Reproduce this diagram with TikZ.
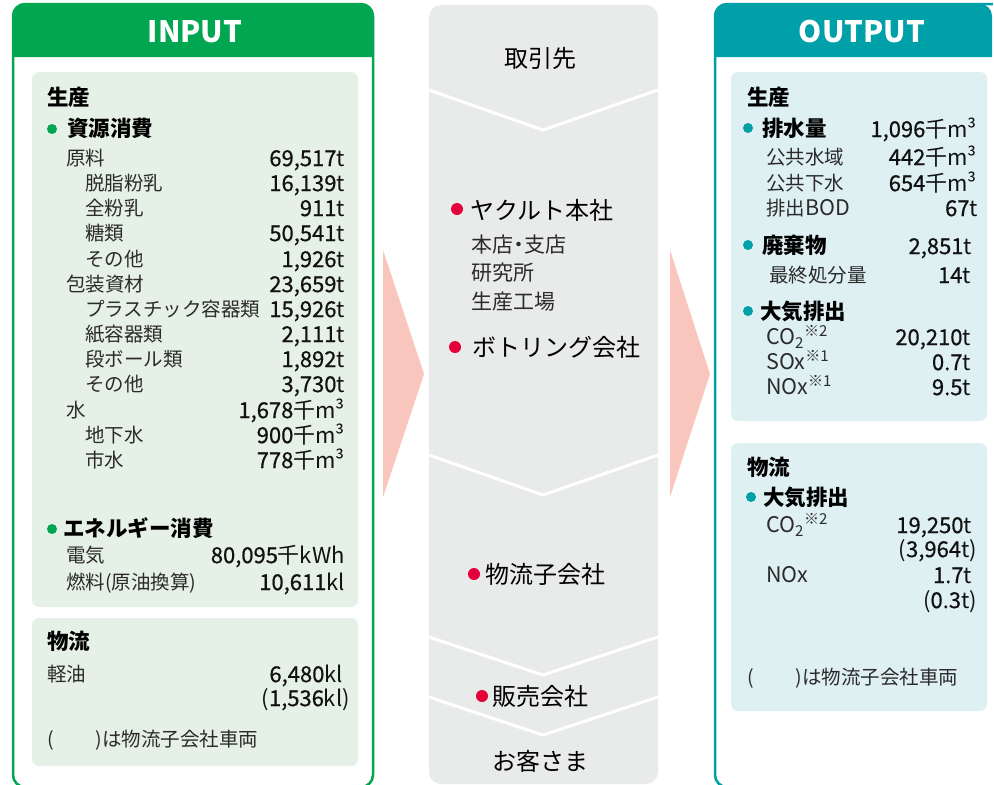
\documentclass[tikz,border=0pt]{standalone}
\usepackage{fontspec}
\setmainfont{Noto Sans CJK JP}
\newfontfamily\jpnum[FakeBold=0.6]{Noto Sans CJK JP}
\newfontfamily\jpreg{Noto Sans CJK JP}
\newcommand\unitf[1]{{\jpreg #1}}
\newcommand\latlab[1]{{\fontsize{21.5}{22}\selectfont #1}}
\definecolor{ingreen}{HTML}{00A650}
\definecolor{inpanel}{HTML}{E5F0E6}
\definecolor{outteal}{HTML}{00A0A8}
\definecolor{outpanel}{HTML}{DFF0F2}
\definecolor{midgrey}{HTML}{E9EAEA}
\definecolor{pinkarrow}{HTML}{F8C6BC}
\definecolor{reddot}{HTML}{E4003A}
\definecolor{labc}{HTML}{2B2B2B}
\definecolor{valc}{HTML}{111111}
\newcommand\Row[6]{%
  \node[lab,anchor=west] (#1a) at (#2,#3) {#4};
  \node[val,anchor=east] (#1b) at (#5,#3) {#6};}
\begin{document}
\begin{tikzpicture}[x=1pt,y=-1pt,
  lab/.style={inner sep=0pt, text height=15.6pt, text depth=1.17pt, font=\fontsize{19.5}{22}\selectfont, text=labc},
  val/.style={inner sep=0pt, text height=17.6pt, text depth=1.32pt, font=\jpnum\fontsize{22}{24}\selectfont, text=valc},
  hd/.style={inner sep=0pt, text height=17.2pt, text depth=1.29pt, font=\bfseries\fontsize{21.5}{24}\selectfont, text=black},
  mid/.style={inner sep=0pt, text height=19.2pt, text depth=1.44pt, font=\fontsize{24}{26}\selectfont, text=black},
  midsub/.style={inner sep=0pt, text height=16.8pt, text depth=1.26pt, font=\fontsize{21}{24}\selectfont, text=labc},
  title/.style={inner sep=0pt, text height=21.5pt, text depth=0pt, font=\bfseries\fontsize{29.5}{32}\selectfont, text=white},
  chev/.style={draw=white, line width=3pt, line join=round},
  gdot/.style={circle, fill=ingreen, inner sep=0pt, minimum size=10pt},
  tdot/.style={circle, fill=outteal, inner sep=0pt, minimum size=10pt},
  rdot/.style={circle, fill=reddot, inner sep=0pt, minimum size=12pt},
  panel/.style={rounded corners=7pt}
]
\useasboundingbox (0,0) rectangle (994,785);
\clip (0,0) rectangle (994,785);
\fill[white] (0,0) rectangle (994,785);

% ---------- INPUT frame ----------
\fill[ingreen] (13,57) {[rounded corners=12pt] -- (13,4) -- (373,4)} -- (373,57) -- cycle;
\draw[ingreen, line width=2.5pt, rounded corners=12pt] (13,4) rectangle (373,787);
\node[title] (intitle) at (195,31.5) {INPUT};
\fill[inpanel, panel] (32,72) rectangle (358,607);
\fill[inpanel, panel] (32,618) rectangle (358,766);

\node[hd,anchor=west] (inprod) at (47,98) {生産};
\node[gdot] (d1) at (52,129) {};
\node[hd,anchor=west] (inres) at (67,129) {資源消費};
\Row{r1}{66}{158}{原料}{345}{69,517\unitf{t}}
\Row{r2}{85}{183}{脱脂粉乳}{345}{16,139\unitf{t}}
\Row{r3}{85}{208}{全粉乳}{345}{911\unitf{t}}
\Row{r4}{85}{233}{糖類}{345}{50,541\unitf{t}}
\Row{r5}{85}{259}{その他}{345}{1,926\unitf{t}}
\Row{r6}{66}{284}{包装資材}{345}{23,659\unitf{t}}
\Row{r7}{85}{309}{プラスチック容器類}{345}{15,926\unitf{t}}
\Row{r8}{85}{334}{紙容器類}{345}{2,111\unitf{t}}
\Row{r9}{85}{359}{段ボール類}{345}{1,892\unitf{t}}
\Row{r10}{85}{384}{その他}{345}{3,730\unitf{t}}
\Row{r11}{66}{410}{水}{345}{1,678\unitf{千m³}}
\Row{r12}{85}{435}{地下水}{345}{900\unitf{千m³}}
\Row{r13}{85}{460}{市水}{345}{778\unitf{千m³}}
\node[gdot] (d2) at (52,529) {};
\node[hd,anchor=west] (inen) at (63,529) {エネルギー消費};
\Row{r14}{66}{555}{電気}{345}{80,095\unitf{千kWh}}
\Row{r15}{66}{582}{燃料(原油換算)}{345}{10,611\unitf{kl}}
\node[hd,anchor=west] (inlog) at (47,642) {物流};
\Row{r16}{47}{674}{軽油}{343}{6,480\unitf{kl}}
\node[val,anchor=east] (r17) at (350,698) {\unitf{(}1,536\unitf{kl)}};
\node[lab,anchor=west] (innote) at (47,739) {(\hspace{42pt})は物流子会社車両};

% ---------- middle column ----------
\fill[midgrey, rounded corners=12pt] (429,5) rectangle (658,784);
\draw[chev] (429,90) -- (543,130) -- (658,90);
\draw[chev] (429,455) -- (543,495) -- (658,455);
\draw[chev] (429,637) -- (543,675) -- (658,637);
\draw[chev] (429,697) -- (543,735) -- (658,697);
\fill[pinkarrow] (383,250) -- (424,374) -- (383,497) -- cycle;
\fill[pinkarrow] (670,250) -- (710,374) -- (670,497) -- cycle;

\node[mid] (m1) at (540,59) {取引先};
\node[rdot] (md1) at (457,209) {};
\node[mid,anchor=west] (m2) at (470,211) {ヤクルト本社};
\node[midsub,anchor=west] (m3) at (471,245) {本店\kern-5pt・\kern-5pt支店};
\node[midsub,anchor=west] (m4) at (471,273) {研究所};
\node[midsub,anchor=west] (m5) at (471,302) {生産工場};
\node[rdot] (md2) at (455,347) {};
\node[mid,anchor=west] (m6) at (472,348) {ボトリング会社};
\node[rdot] (md3) at (474,574) {};
\node[mid,anchor=west] (m7) at (485,575) {物流子会社};
\node[rdot] (md4) at (482,696) {};
\node[mid,anchor=west] (m8) at (492,697) {販売会社};
\node[mid] (m9) at (540,762) {お客さま};

% ---------- OUTPUT frame ----------
\fill[outteal] (715,57) {[rounded corners=12pt] -- (715,4) -- (992,4)} -- (992,57) -- cycle;
\draw[outteal, line width=2.5pt, rounded corners=12pt] (715,4) rectangle (1010,787);
\fill[white] (992.5,0) rectangle (994,60);
\node[title] (outtitle) at (862,31.5) {OUTPUT};
\fill[outpanel, panel] (731,72) rectangle (987,421);
\fill[outpanel, panel] (731,443) rectangle (987,711);

\node[hd,anchor=west] (outprod) at (747,98) {生産};
\node[tdot] (e1) at (748,128) {};
\node[hd,anchor=west] (outw) at (762,129) {排水量};
\node[val,anchor=east] (outwv) at (977,129) {1,096\unitf{千m³}};
\Row{o1}{766}{157}{公共水域}{977}{442\unitf{千m³}}
\Row{o2}{766}{183}{公共下水}{977}{654\unitf{千m³}}
\Row{o3}{766}{208}{排出\latlab{BOD}}{978}{67\unitf{t}}
\node[tdot] (e2) at (748,245) {};
\node[hd,anchor=west] (outwa) at (762,246) {廃棄物};
\node[val,anchor=east] (outwav) at (972,246) {2,851\unitf{t}};
\Row{o4}{769}{275}{最終処分量}{971}{14\unitf{t}}
\node[tdot] (e3) at (748,311) {};
\node[hd,anchor=west] (outair) at (760,312) {大気排出};
\Row{o5}{766}{337}{\latlab{CO\textsubscript{2}\textsuperscript{※2}}}{971}{20,210\unitf{t}}
\Row{o6}{766}{362}{\latlab{SOx\textsuperscript{※1}}}{971}{0.7\unitf{t}}
\Row{o7}{766}{387}{\latlab{NOx\textsuperscript{※1}}}{971}{9.5\unitf{t}}
\node[hd,anchor=west] (outlog) at (747,468) {物流};
\node[tdot] (e4) at (751,497) {};
\node[hd,anchor=west] (outair2) at (763,498) {大気排出};
\Row{o8}{766}{525}{\latlab{CO\textsubscript{2}\textsuperscript{※2}}}{972}{19,250\unitf{t}}
\node[val,anchor=east] (o9) at (977,549) {\unitf{(}3,964\unitf{t)}};
\Row{o10}{766}{575}{\latlab{NOx}}{972}{1.7\unitf{t}}
\node[val,anchor=east] (o11) at (977,600) {\unitf{(}0.3\unitf{t)}};
\node[lab,anchor=west] (outnote) at (747,677) {(\hspace{42pt})は物流子会社車両};
\end{tikzpicture}
\end{document}
